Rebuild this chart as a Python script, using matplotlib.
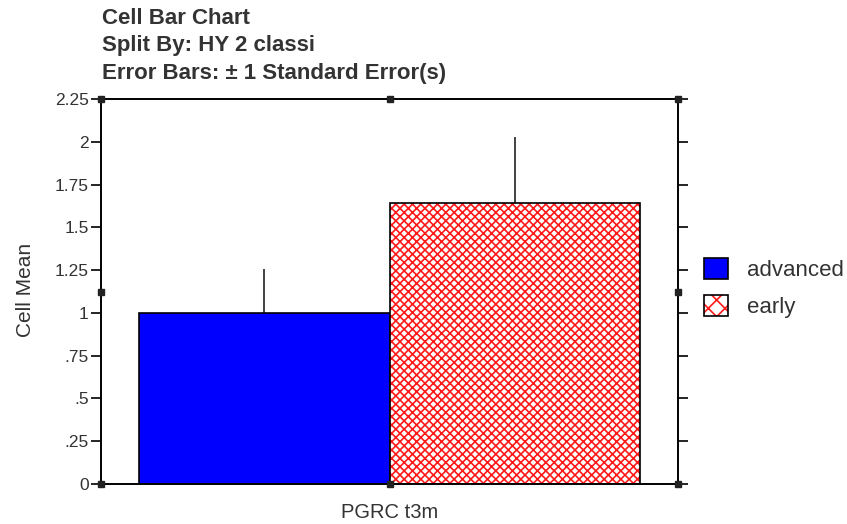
import matplotlib
matplotlib.use("Agg")
import matplotlib.pyplot as plt
from matplotlib.patches import Patch
from matplotlib.legend_handler import HandlerTuple

plt.rcParams['font.family'] = ['Liberation Sans', 'DejaVu Sans']
plt.rcParams['hatch.linewidth'] = 1.2

category = "PGRC t3m"
groups = ["advanced", "early"]
means = [1.0, 1.64]
errors = [0.255, 0.39]
colors = ["#0000ff", "white"]
hatches = [None, "xxxx"]
yticks = [0, 0.25, 0.5, 0.75, 1.0, 1.25, 1.5, 1.75, 2.0, 2.25]
ytick_labels = ["0", ".25", ".5", ".75", "1", "1.25", "1.5", "1.75", "2", "2.25"]

txt = '#333333'
hatch_col = '#ff1a1a'
fig = plt.figure(figsize=(8.47, 5.24), dpi=100)
ax = fig.add_axes([101/847, 1-484/524, 577/847, 385/524])

w = 1.0
offsets = [-0.5, 0.5]
for i, g in enumerate(groups):
    if hatches[i]:
        ax.bar(offsets[i], means[i], width=w, color=colors[i], edgecolor=hatch_col,
               linewidth=0, hatch=hatches[i], zorder=2)
        ax.bar(offsets[i], means[i], width=w, fill=False, edgecolor='black',
               linewidth=1.2, zorder=3)
    else:
        ax.bar(offsets[i], means[i], width=w, color=colors[i], edgecolor='black',
               linewidth=1.2, zorder=2)
    ax.errorbar(offsets[i], means[i], yerr=[[0], [errors[i]]], fmt='none',
                ecolor='#333333', elinewidth=1.3, capsize=0, zorder=1)

ax.set_xlim(-1.15, 1.15)
ax.set_ylim(0, 2.25)
ax.set_yticks(yticks)
ax.set_yticklabels(ytick_labels, fontsize=12.5, color=txt)
ax.set_xticks([0])
ax.set_xticklabels([category], fontsize=14.5, color=txt)
ax.tick_params(axis='x', length=0, pad=14)
ax.tick_params(axis='y', direction='out', length=7, width=1.2, left=True, right=True,
               labelright=False, pad=2)
for s in ax.spines.values():
    s.set_linewidth(1.4)
ax.set_ylabel("Cell Mean", fontsize=15, color=txt)
ax.yaxis.set_label_coords(-66/577, 0.505)

# selection handles
for (hx, hy) in [(0, 0), (0.5, 0), (1, 0), (0, 0.5), (1, 0.5), (0, 1), (0.5, 1), (1, 1)]:
    ax.plot(hx, hy, marker='s', markersize=5, color='#222222', transform=ax.transAxes,
            clip_on=False, zorder=5)

title_lines = ["Cell Bar Chart", "Split By: HY 2 classi", "Error Bars: \u00b1 1 Standard Error(s)"]
for k, line in enumerate(title_lines):
    fig.text(102/847, 1-(19 + 27*k)/524, line, fontsize=16, fontweight='bold',
             color=txt, va='center', ha='left')

h_adv = Patch(facecolor=colors[0], edgecolor='black', linewidth=1.2)
h_early = (Patch(facecolor='white', edgecolor=hatch_col, linewidth=0, hatch='xx'),
           Patch(fill=False, edgecolor='black', linewidth=1.2))
fig.legend(handles=[h_adv, h_early], labels=groups,
           handler_map={tuple: HandlerTuple(ndivide=1)},
           loc='upper left', bbox_to_anchor=(695/847, 1-249/524),
           frameon=False, fontsize=16, handlelength=1.08, handleheight=1.08,
           labelspacing=0.62, handletextpad=0.85, labelcolor=txt, borderaxespad=0)

fig.savefig("out.png", dpi=100)
